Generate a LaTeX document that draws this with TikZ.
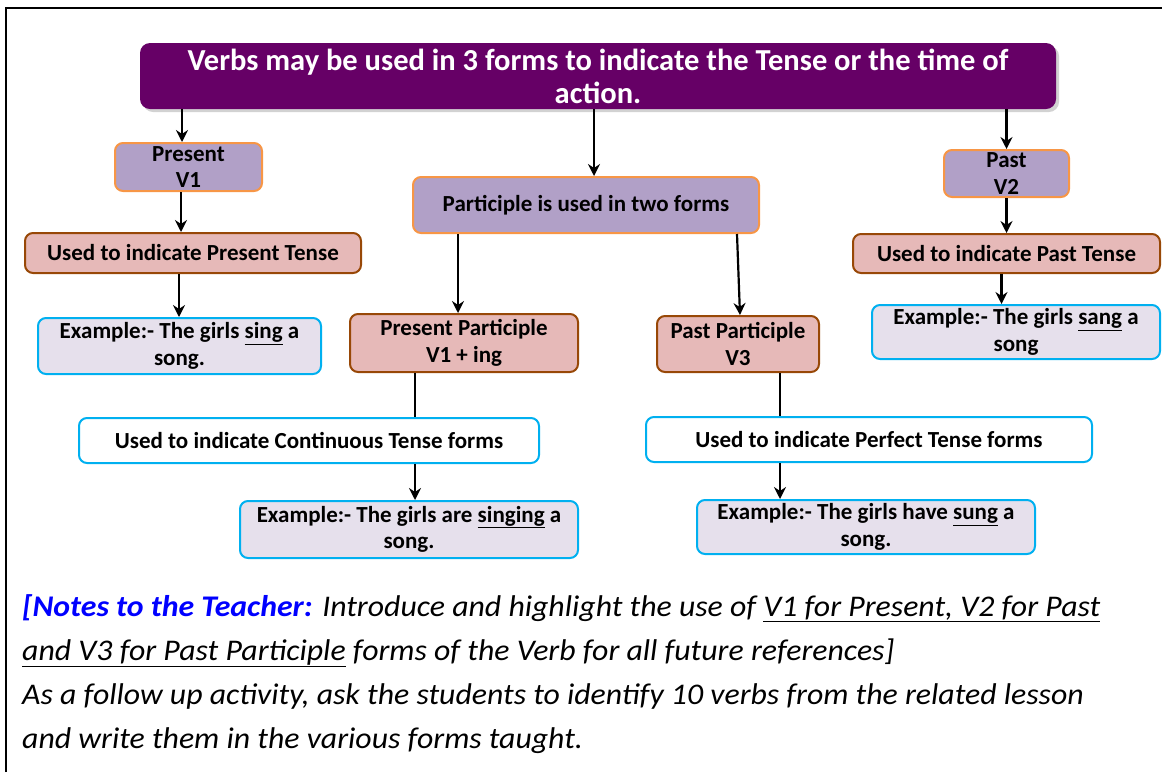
\documentclass[tikz,border=0pt]{standalone}
\usepackage{fontspec}
\setmainfont{Carlito}
\newfontfamily\notefont{Carlito}[FakeStretch=1.06]
\usetikzlibrary{positioning,arrows.meta,shadows}

\definecolor{headpurple}{HTML}{660066}
\definecolor{formlilac}{HTML}{B1A0C7}
\definecolor{formorange}{HTML}{F79646}
\definecolor{usepink}{HTML}{E6B9B8}
\definecolor{usebrown}{HTML}{984807}
\definecolor{exlilac}{HTML}{E6E0EC}
\definecolor{excyan}{HTML}{00B0F0}
\definecolor{noteblue}{HTML}{0000FF}

\begin{document}
\begin{tikzpicture}[
    x=1pt, y=-1pt,
    box_style/.style={draw, line width=2pt, rounded corners=8pt, align=center, inner sep=2pt, font=\fontsize{23}{26.5}\selectfont\bfseries},
    form_box/.style={box_style, fill=formlilac, draw=formorange},
    use_box/.style={box_style, fill=usepink, draw=usebrown},
    ex_box/.style={box_style, fill=exlilac, draw=excyan},
    tense_box/.style={box_style, fill=white, draw=excyan},
    arr/.style={-{Stealth[length=12pt, width=12pt, inset=4pt]}, line width=2.2pt},
    link/.style={line width=2.2pt},
    note_line/.style={anchor=base west, inner sep=0pt, font=\notefont\fontsize{30}{44}\selectfont\itshape}
]
\useasboundingbox (0,0) rectangle (1162,772);

% ===== Frame =====
\draw[line width=2pt] (6,772) -- (6,8) -- (1162,8);

% ===== Title =====
\node[fill=headpurple, rounded corners=10pt, text=white, minimum width=916, minimum height=66,
      align=center, font=\fontsize{30.5}{33}\selectfont\bfseries,
      drop shadow={shadow xshift=3pt, shadow yshift=-3pt, fill=black!35}] (title) at (598,76)
    {Verbs may be used in 3 forms to indicate the Tense or the time of\\action.};

% ===== Forms (lilac) =====
\node[form_box, minimum width=147, minimum height=48] (present) at (188.5,167) {Present\\V1};
\node[form_box, minimum width=346, minimum height=56] (participle) at (586,205) {Participle is used in two forms};
\node[form_box, minimum width=125, minimum height=47] (past) at (1006.5,173.5) {Past\\V2};

% ===== Uses (pink) =====
\node[use_box, minimum width=336, minimum height=40] (usePresent) at (193,253) {Used to indicate Present Tense};
\node[use_box, minimum width=307, minimum height=39] (usePast) at (1006.5,253.5) {Used to indicate Past Tense};
\node[use_box, minimum width=228, minimum height=58] (presPart) at (464,343) {Present Participle\\V1 + ing};
\node[use_box, minimum width=162, minimum height=56] (pastPart) at (738,344) {Past Participle\\V3};

% ===== Tense forms (white) =====
\node[tense_box, minimum width=460, minimum height=45] (useCont) at (309,440.5) {Used to indicate Continuous Tense forms};
\node[tense_box, minimum width=446, minimum height=45] (usePerf) at (869,439.5) {Used to indicate Perfect Tense forms};

% ===== Examples (light lilac) =====
\node[ex_box, minimum width=283, minimum height=56] (exPresent) at (179.5,346) {Example:- The girls \underline{sing} a\\song.};
\node[ex_box, minimum width=288, minimum height=54] (exPast) at (1016,332) {Example:- The girls \underline{sang} a\\song};
\node[ex_box, minimum width=338, minimum height=57] (exCont) at (409,529.5) {Example:- The girls are \underline{singing} a\\song.};
\node[ex_box, minimum width=338, minimum height=54] (exPerf) at (866,527) {Example:- The girls have \underline{sung} a\\song.};

% ===== Connectors from the title =====
\coordinate (presTop) at ([xshift=-6.5]present.north);
\coordinate (partTop) at ([xshift=8]participle.north);
\draw[arr] (title.south -| presTop) -- (presTop);
\draw[arr] (title.south -| partTop) -- (partTop);
\draw[arr] (title.south -| past.north) -- (past.north);

% ===== Left branch: V1 =====
\coordinate (presBot) at ([xshift=-7.5]present.south);
\draw[arr] (presBot) -- (usePresent.north -| presBot);
\coordinate (usePresBot) at ([xshift=-14]usePresent.south);
\draw[arr] (usePresBot) -- (exPresent.north -| usePresBot);

% ===== Middle branch: participles =====
\coordinate (partLeft) at ([xshift=-128]participle.south);
\draw[arr] (partLeft) -- (presPart.north -| partLeft);
\draw[arr] ([xshift=151]participle.south) -- ([xshift=2]pastPart.north);

\coordinate (presPartBot) at ([xshift=-49]presPart.south);
\draw[link] (presPartBot) -- (useCont.north -| presPartBot);
\draw[arr] (useCont.south -| presPartBot) -- (exCont.north -| presPartBot);

\coordinate (pastPartBot) at ([xshift=42]pastPart.south);
\draw[link] (pastPartBot) -- (usePerf.north -| pastPartBot);
\draw[arr] (usePerf.south -| pastPartBot) -- (exPerf.north -| pastPartBot);

% ===== Right branch: V2 =====
\draw[arr] (past.south) -- (usePast.north -| past.south);
\coordinate (usePastBot) at ([xshift=-5]usePast.south);
\draw[arr] (usePastBot) -- (exPast.north -| usePastBot);

% ===== Notes =====
\node[note_line] (note1) at (22,616) {{\bfseries\color{noteblue}[Notes to the Teacher:} Introduce and highlight the use of \underline{V1 for Present, V2 for Past}};
\node[note_line] (note2) at (22,660) {\underline{and V3 for Past Participle} forms of the Verb for all future references]};
\node[note_line] (note3) at (22,704) {As a follow up activity, ask the students to identify 10 verbs from the related lesson};
\node[note_line] (note4) at (22,748) {and write them in the various forms taught.};

\end{tikzpicture}
\end{document}
